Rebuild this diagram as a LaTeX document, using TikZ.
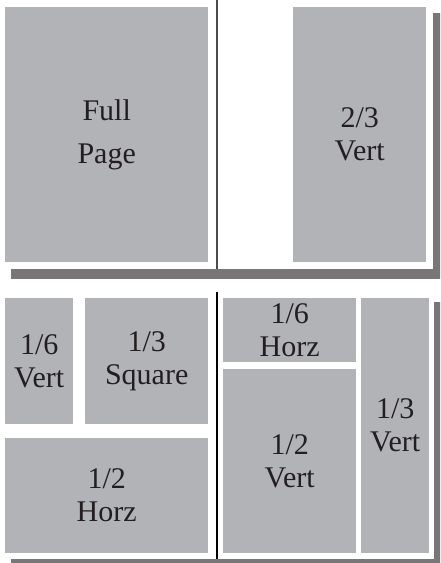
\documentclass[tikz,border=0pt]{standalone}
\usepackage{fontspec}
\setmainfont{Liberation Serif}
\definecolor{boxgray}{HTML}{B2B3B7}
\definecolor{shadowgray}{HTML}{787677}
\definecolor{inkc}{HTML}{231F20}
\tikzset{
  adbox/.style={fill=boxgray, draw=none, anchor=north west, inner sep=0pt,
    align=center, text=inkc, font=\fontsize{30}{33}\selectfont},
  pageshadow/.style={fill=shadowgray, draw=none},
  pagewhite/.style={fill=white, draw=none},
}
\newcommand{\adbox}[6]{% name, x1, y1, x2, y2, text
  \node[adbox, minimum width={(#4-#2)*1pt}, minimum height={(#5-#3)*1pt}] (#1) at (#2,#3) {#6};}
\begin{document}
\begin{tikzpicture}[x=1pt,y=-1pt]
\useasboundingbox (0,0) rectangle (440,563);
\clip (0,0) rectangle (440,563);
% top spread
\fill[pageshadow] (11,13) rectangle (441,279);
\fill[pagewhite] (4,3) rectangle (433,269);
\coordinate (t1) at (217,0);
\coordinate (t2) at (217,269);
\draw[line width=1.3pt, color=black!70] (t1) -- (t2);
\adbox{full}{5}{7}{208}{262}{Full\\[10pt]Page}
\adbox{twothirds}{293}{7}{426}{262}{2/3\\Vert}
% bottom spread
\fill[pageshadow] (11,302) rectangle (441,570);
\fill[pagewhite] (4,292) rectangle (434,559);
\coordinate (b1) at (217,292);
\coordinate (b2) at (217,559);
\draw[line width=1.3pt, color=black] (b1) -- (b2);
\adbox{sixvert}{5}{298}{73}{424}{1/6\\Vert}
\adbox{thirdsq}{85}{298}{208}{424}{1/3\\Square}
\adbox{halfhorz}{5}{438}{208}{553}{1/2\\Horz}
\adbox{sixhorz}{223}{298}{356}{362}{1/6\\Horz}
\adbox{halfvert}{223}{369}{356}{553}{1/2\\Vert}
\adbox{thirdvert}{361}{298}{429}{553}{1/3\\Vert}
\end{tikzpicture}
\end{document}
